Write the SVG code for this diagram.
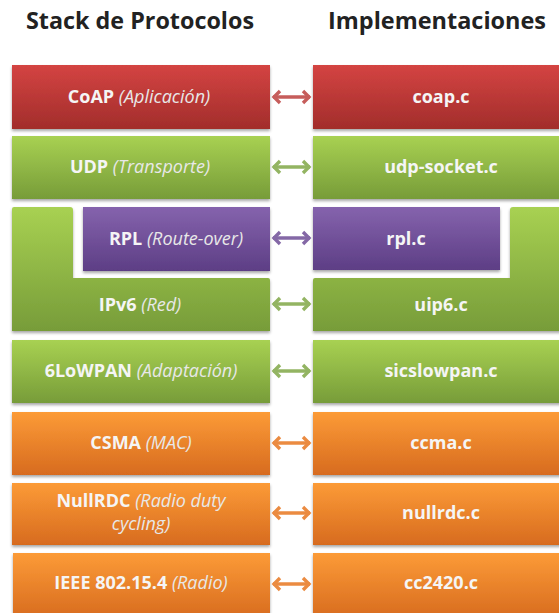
<svg xmlns="http://www.w3.org/2000/svg" width="559" height="613" viewBox="0 0 559 613">
  <defs>
    <linearGradient id="gRed" x1="0" y1="0" x2="0" y2="1">
      <stop offset="0" stop-color="#d44442"/>
      <stop offset="1" stop-color="#a22d2b"/>
    </linearGradient>
    <linearGradient id="gGreen" x1="0" y1="0" x2="0" y2="1">
      <stop offset="0" stop-color="#a8d152"/>
      <stop offset="1" stop-color="#779c39"/>
    </linearGradient>
    <linearGradient id="gPurple" x1="0" y1="0" x2="0" y2="1">
      <stop offset="0" stop-color="#8563ad"/>
      <stop offset="1" stop-color="#5d3e85"/>
    </linearGradient>
    <linearGradient id="gOrange" x1="0" y1="0" x2="0" y2="1">
      <stop offset="0" stop-color="#fc9b37"/>
      <stop offset="1" stop-color="#d76b1f"/>
    </linearGradient>
    <filter id="shadow" x="-5%" y="-10%" width="110%" height="130%">
      <feDropShadow dx="0" dy="2" stdDeviation="1.5" flood-color="#000" flood-opacity="0.35"/>
    </filter>
    <marker id="mRed" viewBox="-10 -8 12 16" refX="0" refY="0" markerWidth="12" markerHeight="16" markerUnits="userSpaceOnUse" orient="auto-start-reverse">
      <path d="M-7,-6 L-1,0 L-7,6" fill="none" stroke="#c65d5b" stroke-width="3.4"/>
    </marker>
    <marker id="mGreen" viewBox="-10 -8 12 16" refX="0" refY="0" markerWidth="12" markerHeight="16" markerUnits="userSpaceOnUse" orient="auto-start-reverse">
      <path d="M-7,-6 L-1,0 L-7,6" fill="none" stroke="#93b462" stroke-width="3.4"/>
    </marker>
    <marker id="mPurple" viewBox="-10 -8 12 16" refX="0" refY="0" markerWidth="12" markerHeight="16" markerUnits="userSpaceOnUse" orient="auto-start-reverse">
      <path d="M-7,-6 L-1,0 L-7,6" fill="none" stroke="#8468a6" stroke-width="3.4"/>
    </marker>
    <marker id="mOrange" viewBox="-10 -8 12 16" refX="0" refY="0" markerWidth="12" markerHeight="16" markerUnits="userSpaceOnUse" orient="auto-start-reverse">
      <path d="M-7,-6 L-1,0 L-7,6" fill="none" stroke="#eb8b41" stroke-width="3.4"/>
    </marker>
  </defs>
  <style>
    .title { font-family: "Open Sans", "Liberation Sans", sans-serif; font-weight: 700; font-size: 23px; fill: #222222; }
    .lbl { font-family: "Open Sans", "Liberation Sans", sans-serif; font-size: 18px; fill: #f5f5f5; text-anchor: middle; }
    .b { font-weight: 700; }
    .i { font-style: italic; fill: #e8e8e8; }
    .box { filter: url(#shadow); }
    .red { fill: url(#gRed); }
    .green { fill: url(#gGreen); }
    .purple { fill: url(#gPurple); }
    .orange { fill: url(#gOrange); }
    .arrow { fill: none; stroke-width: 3.4; }
  </style>

  <rect width="559" height="613" fill="#ffffff"/>

  <!-- column headings -->
  <text class="title" x="26" y="29" textLength="228" lengthAdjust="spacingAndGlyphs">Stack de Protocolos</text>
  <text class="title" x="328" y="29" textLength="218" lengthAdjust="spacingAndGlyphs">Implementaciones</text>

  <!-- protocol stack (left column) -->
  <g id="coap">
    <rect class="box red" x="12" y="65" width="258" height="64"/>
    <text class="lbl" x="139" y="103"><tspan class="b">CoAP</tspan> <tspan class="i">(Aplicación)</tspan></text>
  </g>
  <g id="udp">
    <rect class="box green" x="12" y="136" width="258" height="63"/>
    <text class="lbl" x="140" y="173"><tspan class="b">UDP</tspan> <tspan class="i">(Transporte)</tspan></text>
  </g>
  <g id="ipv6">
    <path class="box green" d="M14,207 H70 Q73,207 73,210 V278 H268 Q270,278 270,280 V331 H12 V209 Q12,207 14,207 Z"/>
    <text class="lbl" x="140" y="311"><tspan class="b">IPv6</tspan> <tspan class="i">(Red)</tspan></text>
  </g>
  <g id="rpl">
    <rect class="box purple" x="83" y="207" width="187" height="64"/>
    <text class="lbl" x="176" y="245"><tspan class="b">RPL</tspan> <tspan class="i">(Route-over)</tspan></text>
  </g>
  <g id="sixlowpan">
    <rect class="box green" x="12" y="340" width="258" height="63"/>
    <text class="lbl" x="141" y="377"><tspan class="b">6LoWPAN</tspan> <tspan class="i">(Adaptación)</tspan></text>
  </g>
  <g id="csma">
    <rect class="box orange" x="12" y="412" width="258" height="63"/>
    <text class="lbl" x="141" y="449"><tspan class="b">CSMA</tspan> <tspan class="i">(MAC)</tspan></text>
  </g>
  <g id="nullrdc">
    <rect class="box orange" x="12" y="483" width="258" height="62"/>
    <text class="lbl" x="141" y="507"><tspan class="b">NullRDC</tspan> <tspan class="i">(Radio duty</tspan></text>
    <text class="lbl" x="141" y="530"><tspan class="i">cycling)</tspan></text>
  </g>
  <g id="ieee802154">
    <rect class="box orange" x="13" y="553" width="257" height="66"/>
    <text class="lbl" x="141" y="589"><tspan class="b">IEEE 802.15.4</tspan> <tspan class="i">(Radio)</tspan></text>
  </g>

  <!-- implementation files (right column) -->
  <g id="coap-c">
    <rect class="box red" x="313" y="65" width="260" height="64"/>
    <text class="lbl b" x="441" y="103">coap.c</text>
  </g>
  <g id="udp-socket-c">
    <rect class="box green" x="313" y="136" width="260" height="63"/>
    <text class="lbl b" x="441" y="173">udp-socket.c</text>
  </g>
  <g id="uip6-c">
    <path class="box green" d="M315,278 H510 V210 Q510,207 513,207 H573 V331 H313 V280 Q313,278 315,278 Z"/>
    <text class="lbl b" x="441" y="311">uip6.c</text>
  </g>
  <g id="rpl-c">
    <rect class="box purple" x="313" y="207" width="187" height="63"/>
    <text class="lbl b" x="406" y="245">rpl.c</text>
  </g>
  <g id="sicslowpan-c">
    <rect class="box green" x="313" y="340" width="260" height="63"/>
    <text class="lbl b" x="441" y="377">sicslowpan.c</text>
  </g>
  <g id="ccma-c">
    <rect class="box orange" x="313" y="412" width="260" height="63"/>
    <text class="lbl b" x="441" y="449">ccma.c</text>
  </g>
  <g id="nullrdc-c">
    <rect class="box orange" x="313" y="483" width="260" height="62"/>
    <text class="lbl b" x="441" y="519">nullrdc.c</text>
  </g>
  <g id="cc2420-c">
    <rect class="box orange" x="313" y="553" width="260" height="66"/>
    <text class="lbl b" x="441" y="589">cc2420.c</text>
  </g>

  <!-- layer-to-file connectors -->
  <g id="connectors">
    <path class="arrow" stroke="#c65d5b" marker-start="url(#mRed)" marker-end="url(#mRed)" d="M273,97 H310"/>
    <path class="arrow" stroke="#93b462" marker-start="url(#mGreen)" marker-end="url(#mGreen)" d="M273,167 H310"/>
    <path class="arrow" stroke="#8468a6" marker-start="url(#mPurple)" marker-end="url(#mPurple)" d="M273,238 H310"/>
    <path class="arrow" stroke="#93b462" marker-start="url(#mGreen)" marker-end="url(#mGreen)" d="M273,304 H310"/>
    <path class="arrow" stroke="#93b462" marker-start="url(#mGreen)" marker-end="url(#mGreen)" d="M273,371 H310"/>
    <path class="arrow" stroke="#eb8b41" marker-start="url(#mOrange)" marker-end="url(#mOrange)" d="M273,443 H310"/>
    <path class="arrow" stroke="#eb8b41" marker-start="url(#mOrange)" marker-end="url(#mOrange)" d="M273,513 H310"/>
    <path class="arrow" stroke="#eb8b41" marker-start="url(#mOrange)" marker-end="url(#mOrange)" d="M273,584 H310"/>
  </g>
</svg>
